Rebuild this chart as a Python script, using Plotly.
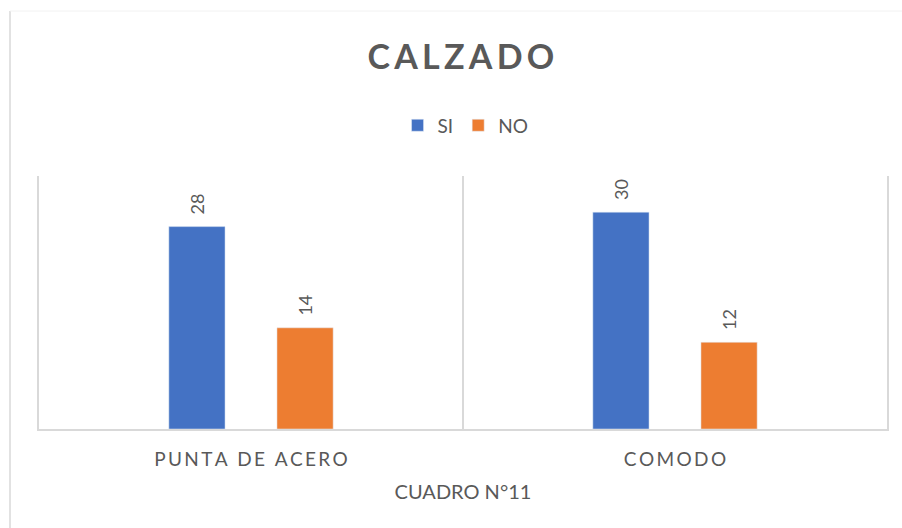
import plotly.graph_objects as go

categories = ["PUNTA DE ACERO", "COMODO"]
si_values = [28, 30]
no_values = [14, 12]
series_names = ["SI", "NO"]
title_text = "CALZADO"
xaxis_title = "CUADRO N°11"

BLUE = "#4472C4"
ORANGE = "#ED7D31"
TEXT = "#595959"
LINE = "#D9D9D9"
FONT = "Lato, 'Open Sans', sans-serif"


def spaced(s, sep="\u2005"):
    return sep.join(list(s))


def label(v):
    return "\u00a0\u00a0" + str(v)


fig = go.Figure()
for name, vals, col in [(series_names[0], si_values, BLUE), (series_names[1], no_values, ORANGE)]:
    fig.add_trace(go.Bar(
        name=name, x=categories, y=vals, marker_color=col,
        text=[label(v) for v in vals], textposition="outside", textangle=-90,
        textfont=dict(color=TEXT, size=18, family=FONT), cliponaxis=False,
    ))

fig.update_layout(
    width=902, height=528,
    margin=dict(l=39, r=15, t=176, b=99),
    paper_bgcolor="white", plot_bgcolor="white",
    barmode="group", bargap=0.49, bargroupgap=0.48,
    font=dict(family=FONT, color=TEXT),
    title=dict(text="<b>" + spaced(title_text, "\u2009") + "</b>", x=0.511, xanchor="center",
               y=0.892, yanchor="middle", font=dict(size=34, color=TEXT, family=FONT)),
    legend=dict(orientation="h", x=0.503, xanchor="center", y=1.2, yanchor="middle",
                font=dict(size=19, color=TEXT), itemwidth=30, traceorder="normal"),
    showlegend=True,
    xaxis=dict(
        tickmode="array", tickvals=categories, ticktext=[spaced(c, "\u2009") for c in categories],
        tickson="boundaries", ticks="", showgrid=True, gridcolor=LINE, gridwidth=1.5,
        showline=True, linecolor=LINE, linewidth=1.5,
        tickfont=dict(size=19, color=TEXT), ticklabelstandoff=12,
        title=dict(text=xaxis_title, font=dict(size=20, color=TEXT), standoff=16),
    ),
    yaxis=dict(range=[0, 35], showticklabels=False, showgrid=False, zeroline=False,
               showline=True, mirror=True, linecolor=LINE, linewidth=1.5, ticks=""),
    shapes=[
        dict(type="line", xref="paper", yref="paper", x0=-0.0342, x1=-0.0342, y0=-0.5, y1=1.652,
             line=dict(color=LINE, width=1.5)),
        dict(type="line", xref="paper", yref="paper", x0=-0.0342, x1=1.03, y0=1.652, y1=1.652,
             line=dict(color="#F2F2F2", width=1)),
    ],
)

fig.write_html("out.html", config={"displayModeBar": False},
               post_script="document.body.style.margin='0';document.body.style.overflow='hidden';")
